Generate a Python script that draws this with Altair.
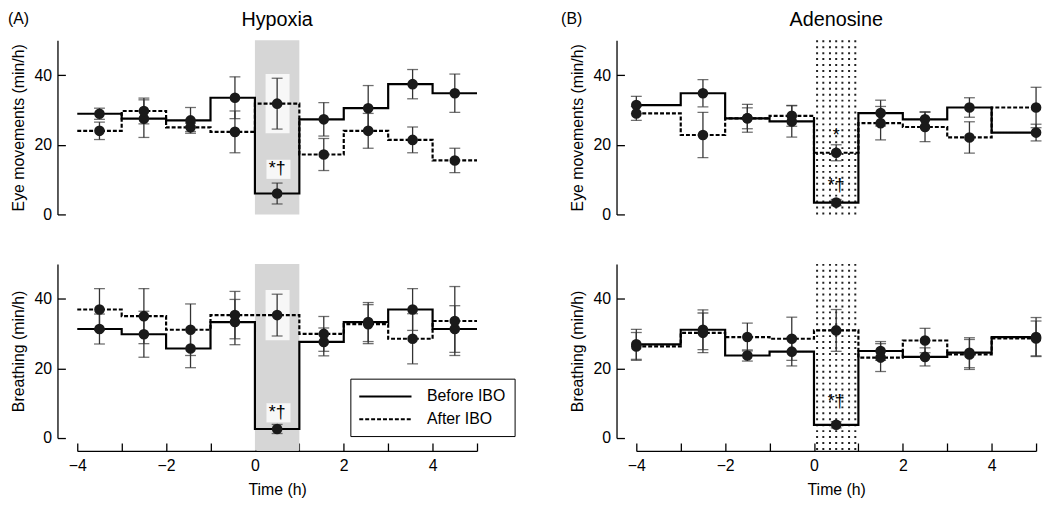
import altair as alt
import pandas as pd

FONT = "Liberation Sans"

# ---------------- data ----------------
bin_starts = [-4, -3, -2, -1, 0, 1, 2, 3, 4]
x_end = 5
stim_start, stim_end = 0, 1

centers_A = [-3.5, -2.5, -1.45, -0.45, 0.5, 1.55, 2.55, 3.55, 4.5]
centers_B = [-4, -2.5, -1.5, -0.5, 0.5, 1.5, 2.5, 3.5, 5]

# Hypoxia - eye movements
hyp_eye_before = [28.9, 27.5, 27.0, 33.5, 6.0, 27.3, 30.5, 37.4, 34.8]
hyp_eye_before_err = [1.6, 5.4, 3.7, 6.0, 3.0, 4.8, 6.5, 4.2, 5.5]
hyp_eye_after = [24.0, 29.7, 25.0, 23.7, 31.8, 17.2, 24.0, 21.4, 15.5]
hyp_eye_after_err = [2.5, 3.7, 1.2, 6.0, 7.3, 4.6, 5.0, 3.7, 3.5]

# Hypoxia - breathing
hyp_br_before = [31.3, 29.8, 25.7, 33.3, 2.6, 27.6, 33.3, 36.9, 31.3]
hyp_br_before_err = [4.3, 6.6, 5.5, 6.5, 1.3, 4.0, 5.6, 6.0, 6.7]
hyp_br_after = [36.9, 35.0, 31.1, 35.3, 35.3, 29.9, 32.7, 28.5, 33.6]
hyp_br_after_err = [6.0, 7.9, 7.4, 6.8, 6.0, 5.0, 5.6, 7.2, 9.9]

# Adenosine - eye movements
ade_eye_before = [31.4, 34.8, 27.6, 26.7, 3.4, 29.1, 27.3, 30.7, 23.5]
ade_eye_before_err = [2.5, 3.9, 4.0, 4.5, 0.9, 3.7, 2.2, 2.8, 2.4]
ade_eye_after = [29.0, 22.8, 27.6, 28.3, 17.7, 26.2, 25.1, 22.1, 30.7]
ade_eye_after_err = [2.0, 6.5, 3.0, 3.0, 2.3, 4.8, 4.2, 4.5, 5.8]

# Adenosine - breathing
ade_br_before = [26.9, 31.1, 23.7, 24.8, 3.8, 25.0, 23.3, 24.5, 29.0]
ade_br_before_err = [4.3, 5.7, 1.6, 4.1, 0.9, 2.7, 2.6, 4.3, 5.6]
ade_br_after = [26.3, 30.2, 29.0, 28.5, 30.9, 23.1, 28.0, 24.0, 28.6]
ade_br_after_err = [4.0, 5.7, 4.0, 6.2, 6.0, 4.0, 3.5, 4.3, 5.0]

# significance marks (x, y, text)
marks_hyp_eye = [(0.5, 11.5, "*†")]
marks_hyp_br = [(0.5, 5.8, "*†")]
marks_ade_eye = [(0.5, 21.0, "*"), (0.5, 6.8, "*†")]
marks_ade_br = [(0.5, 8.8, "*†")]

# dotted pattern columns for the adenosine period
dot_cols = [0.07, 0.21, 0.36, 0.5, 0.64, 0.79, 0.93]

series_names = ["Before IBO", "After IBO"]
dash_range = [[1, 0], [4, 2]]

BLACK = "#000000"
W, H = 404, 176
STIM_BIN = 4  # index of the 0-1 h bin


def y_axis(title):
    return alt.Axis(
        title=title, values=[0, 10, 20, 30, 40, 50],
        labelExpr="(datum.value % 20 == 0 && datum.value < 50) ? datum.label : ''",
        offset=20, tickSize=alt.ExprRef("-8"), labelPadding=14,
        domainColor=BLACK, tickColor=BLACK, domainWidth=1.3, tickWidth=1.3,
        labelFontSize=16, titleFontSize=16, labelFont=FONT, titleFont=FONT,
        titleFontWeight="normal", labelColor=BLACK, titleColor=BLACK,
        grid=False, titlePadding=8,
    )


def x_axis():
    return alt.Axis(
        title="Time (h)", values=list(range(-4, 6)),
        labelExpr="datum.value % 2 == 0 ? datum.label : ''",
        offset=13, tickSize=alt.ExprRef("-8"), labelPadding=15,
        domainColor=BLACK, tickColor=BLACK, domainWidth=1.3, tickWidth=1.3,
        labelFontSize=16, titleFontSize=16, labelFont=FONT, titleFont=FONT,
        titleFontWeight="normal", labelColor=BLACK, titleColor=BLACK,
        grid=False, titlePadding=8, labelFlush=False,
    )


def panel(before, before_err, after, after_err, centers, ytitle, bottom,
          kind, marks, title=None, tag=None, tag_x=-70, legend=False):
    steps = []
    pts = []
    for name, vals, errs in [(series_names[0], before, before_err),
                             (series_names[1], after, after_err)]:
        xs = bin_starts + [x_end]
        ys = vals + [vals[-1]]
        for xv, yv in zip(xs, ys):
            steps.append({"series": name, "x": xv, "y": yv})
        for xc, v, e in zip(centers, vals, errs):
            pts.append({"series": name, "x": xc, "y": v, "lo": v - e, "hi": v + e})
    steps = pd.DataFrame(steps)
    pts = pd.DataFrame(pts)

    xscale = alt.Scale(domain=[-4, 5], nice=False, zero=False)
    yscale = alt.Scale(domain=[0, 50], nice=False, zero=False)
    xenc_axis = x_axis() if bottom else None
    ybot = -3.6 if bottom else 0

    layers = []
    if kind == "hyp":
        shade = pd.DataFrame([{"x": stim_start, "x2": stim_end, "y": ybot, "y2": 50}])
        layers.append(
            alt.Chart(shade).mark_rect(color="#d6d6d6").encode(
                x=alt.X("x:Q", scale=xscale, axis=xenc_axis),
                x2="x2:Q",
                y=alt.Y("y:Q", scale=yscale, axis=y_axis(ytitle)),
                y2="y2:Q",
            )
        )
        # cleared areas of the stipple behind the error bar and the marks
        a_v = after[STIM_BIN]
        a_e = after_err[STIM_BIN]
        clear = [{"x": stim_start + 0.24, "x2": stim_end - 0.22,
                  "y": a_v - a_e - 1.2, "y2": a_v + a_e + 1.2}]
        for mx, my, mt in marks:
            clear.append({"x": stim_start + 0.26, "x2": stim_end - 0.2,
                          "y": my - 1.3, "y2": my + 4.2})
        layers.append(
            alt.Chart(pd.DataFrame(clear)).mark_rect(color="#f7f7f7").encode(
                x=alt.X("x:Q", scale=xscale), x2="x2:Q",
                y=alt.Y("y:Q", scale=yscale), y2="y2:Q",
            )
        )
    else:
        dots = pd.DataFrame([{"x": c, "y": ybot, "y2": 50} for c in dot_cols])
        layers.append(
            alt.Chart(dots).mark_rule(color="#222222", strokeWidth=2,
                                      strokeDash=[2, 4]).encode(
                x=alt.X("x:Q", scale=xscale, axis=xenc_axis),
                y=alt.Y("y2:Q", scale=yscale, axis=y_axis(ytitle)),
                y2="y:Q",
            )
        )

    if legend:
        leg = alt.Legend(
            title=None, orient="none", legendX=276, legendY=116,
            symbolType="M-3.3,0H3.3", symbolSize=256, symbolStrokeWidth=2,
            symbolStrokeColor=BLACK, symbolFillColor="transparent",
            symbolOffset=17.4, labelOffset=33,
            labelFontSize=16, labelFont=FONT, labelColor=BLACK,
            strokeColor=BLACK, padding=9, rowPadding=6,
        )
    else:
        leg = None

    layers.append(
        alt.Chart(steps).mark_line(interpolate="step-after", color=BLACK,
                                   strokeWidth=2.2).encode(
            x=alt.X("x:Q", scale=xscale),
            y=alt.Y("y:Q", scale=yscale),
            strokeDash=alt.StrokeDash("series:N",
                                      scale=alt.Scale(domain=series_names, range=dash_range),
                                      legend=leg),
            detail="series:N",
        )
    )
    layers.append(
        alt.Chart(pts).mark_rule(color="#333333", strokeWidth=1.3).encode(
            x=alt.X("x:Q", scale=xscale), y=alt.Y("lo:Q", scale=yscale), y2="hi:Q"
        )
    )
    for col in ["lo", "hi"]:
        layers.append(
            alt.Chart(pts).mark_tick(color="#333333", orient="horizontal", size=11,
                                     thickness=1.3).encode(
                x=alt.X("x:Q", scale=xscale), y=alt.Y(f"{col}:Q", scale=yscale)
            )
        )
    layers.append(
        alt.Chart(pts).mark_point(filled=True, color="#1a1a1a", size=115,
                                  opacity=1, shape="circle").encode(
            x=alt.X("x:Q", scale=xscale), y=alt.Y("y:Q", scale=yscale)
        )
    )
    mdf = pd.DataFrame([{"x": m[0], "y": m[1], "t": m[2]} for m in marks])
    layers.append(
        alt.Chart(mdf).mark_text(font=FONT, fontSize=18, color=BLACK,
                                 baseline="alphabetic", align="center").encode(
            x=alt.X("x:Q", scale=xscale), y=alt.Y("y:Q", scale=yscale), text="t:N"
        )
    )
    if tag is not None:
        tdf = pd.DataFrame([{"t": tag}])
        layers.append(
            alt.Chart(tdf).mark_text(font=FONT, fontSize=16, color=BLACK,
                                     align="left", baseline="alphabetic").encode(
                x=alt.value(tag_x), y=alt.value(-16), text="t:N"
            )
        )
    if title is not None:
        ttl = pd.DataFrame([{"t": title}])
        layers.append(
            alt.Chart(ttl).mark_text(font=FONT, fontSize=20, color=BLACK,
                                     align="center", baseline="alphabetic").encode(
                x=alt.value(W / 2), y=alt.value(-14), text="t:N"
            )
        )

    return alt.layer(*layers).properties(width=W, height=H)


a_top = panel(hyp_eye_before, hyp_eye_before_err, hyp_eye_after, hyp_eye_after_err,
              centers_A, "Eye movements (min/h)", False, "hyp", marks_hyp_eye,
              title="Hypoxia", tag="(A)", tag_x=-70)
b_top = panel(ade_eye_before, ade_eye_before_err, ade_eye_after, ade_eye_after_err,
              centers_B, "Eye movements (min/h)", False, "ade", marks_ade_eye,
              title="Adenosine", tag="(B)", tag_x=-76)
a_bot = panel(hyp_br_before, hyp_br_before_err, hyp_br_after, hyp_br_after_err,
              centers_A, "Breathing (min/h)", True, "hyp", marks_hyp_br, legend=True)
b_bot = panel(ade_br_before, ade_br_before_err, ade_br_after, ade_br_after_err,
              centers_B, "Breathing (min/h)", True, "ade", marks_ade_br)

chart = alt.concat(
    a_top, b_top, a_bot, b_bot, columns=2,
    spacing={"row": 50, "column": 161}, bounds="flush",
).resolve_scale(strokeDash="independent").resolve_legend(
    strokeDash="independent"
).properties(
    padding={"left": 0, "top": 0, "right": 0, "bottom": 0}
).configure_view(stroke=None)

chart.save("out.html", embed_options={"renderer": "svg", "actions": False})
